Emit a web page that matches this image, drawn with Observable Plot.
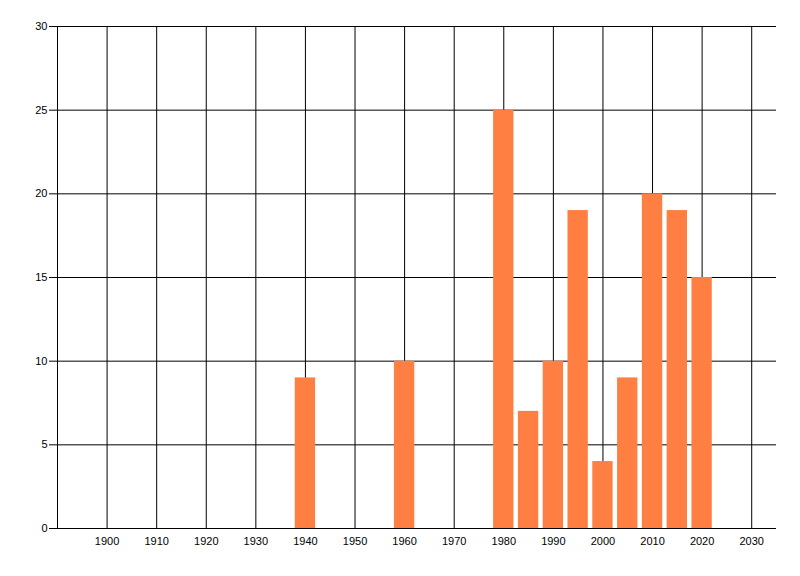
<!DOCTYPE html>
<html lang="en">
<head>
<meta charset="utf-8">
<title>Bars by year</title>
<script src="https://cdn.jsdelivr.net/npm/d3@7"></script>
<script src="https://cdn.jsdelivr.net/npm/@observablehq/plot@0.6"></script>
<style>
  body { margin: 0; background: #fff; }
  #graphic svg { display: block; }
</style>
</head>
<body>
<div id="graphic"></div>
<script>
  // values
  const years  = [1940, 1960, 1980, 1985, 1990, 1995, 2000, 2005, 2010, 2015, 2020];
  const counts = [9, 10, 25, 7, 10, 19, 4, 9, 20, 19, 15];
  const xTicks = [1900, 1910, 1920, 1930, 1940, 1950, 1960, 1970, 1980, 1990, 2000, 2010, 2020, 2030];
  const yTicks = [0, 5, 10, 15, 20, 25, 30];

  const data = years.map((y, i) => ({year: y, value: counts[i]}));

  const chart = Plot.plot({
    width: 800, height: 576,
    marginLeft: 57, marginRight: 24, marginTop: 26, marginBottom: 48,
    style: {fontFamily: "'Liberation Sans', Arial, sans-serif", fontSize: "11px", color: "#000", background: "#fff"},
    x: {domain: [1890, 2035], label: null},
    y: {domain: [0, 30], label: null},
    marks: [
      Plot.ruleX(xTicks, {stroke: "#000", strokeWidth: 1, strokeOpacity: 1}),
      Plot.ruleY(yTicks, {stroke: "#000", strokeWidth: 1, strokeOpacity: 1}),
      Plot.rectY(data, {x1: d => d.year - 2.05, x2: d => d.year + 2.05, y: "value", fill: "#FF7F42"}),
      Plot.ruleX([1890], {stroke: "#000", strokeWidth: 1}),
      Plot.axisX(xTicks, {tickSize: 0, tickPadding: 9, label: null, tickFormat: d => String(d)}),
      Plot.axisY(yTicks, {tickSize: 8, tickPadding: 2, label: null})
    ]
  });
  document.getElementById('graphic').appendChild(chart);
</script>
</body>
</html>
